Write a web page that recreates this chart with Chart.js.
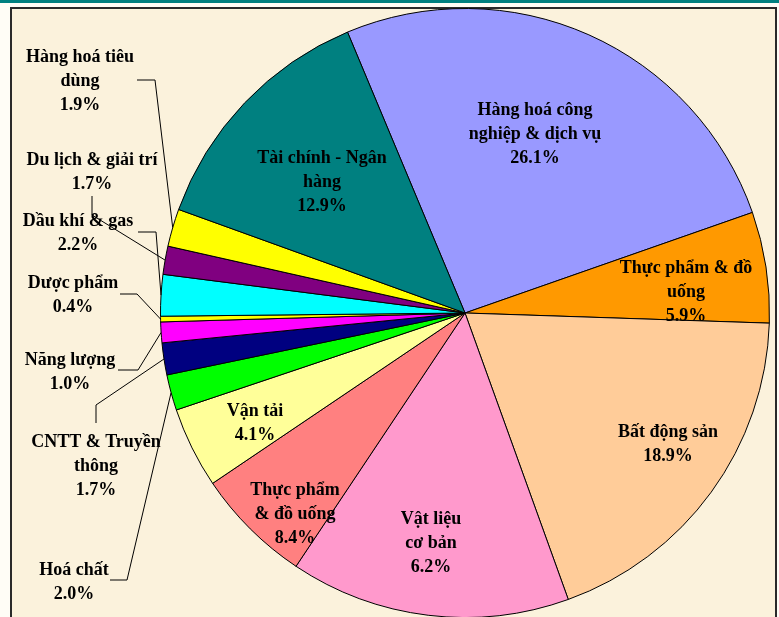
<!DOCTYPE html>
<html>
<head>
<meta charset="utf-8">
<script src="https://cdn.jsdelivr.net/npm/chart.js@4"></script>
<style>
  html, body { margin: 0; padding: 0; width: 779px; height: 617px; overflow: hidden; background: #fffdf6; }
  #topbar { position: absolute; left: 0; top: 0; width: 779px; height: 3px; background: #008080; }
  #frame { position: absolute; left: 10px; top: 7px; width: 763px; height: 640px; border: 2px solid #2a2a2a; background: #fbf2dc; }
  #pie { position: absolute; left: 0; top: 0; }
</style>
</head>
<body>
<div id="topbar"></div>
<div id="frame"></div>
<canvas id="pie" width="779" height="640"></canvas>
<script>
// slices clockwise, starting at the teal / lilac edge
const categories = [
    'Hàng hoá công\nnghiệp & dịch vụ',
    'Thực phẩm & đồ\nuống',
    'Bất động sản',
    'Vật liệu\ncơ bản',
    'Thực phẩm\n& đồ uống',
    'Vận tải',
    'Hoá chất',
    'CNTT & Truyền\nthông',
    'Năng lượng',
    'Dược phẩm',
    'Dầu khí & gas',
    'Du lịch & giải trí',
    'Hàng hoá tiêu\ndùng',
    'Tài chính - Ngân\nhàng'
];
// slice sizes as measured on the picture (%)
const sliceShares = [26.0, 5.9, 19.0, 14.9, 6.2, 4.3, 1.9, 1.7, 1.1, 0.3, 2.2, 1.5, 2.0, 13.2];
// percentages as printed on the labels
const percentLabels = ['26.1%', '5.9%', '18.9%', '6.2%', '8.4%', '4.1%', '2.0%', '1.7%', '1.0%', '0.4%', '2.2%', '1.7%', '1.9%', '12.9%'];
const sliceColors = ['#9999ff', '#ff9900', '#ffcc99', '#ff99cc', '#ff8080', '#ffff99', '#00ff00',
    '#000080', '#ff00ff', '#ffff00', '#00ffff', '#800080', '#ffff00', '#008080'];

// where each label sits (centre of first line); leader = elbow points, last point is the slice edge
const labelLayout = [
    { x: 535, y: 110 },
    { x: 686, y: 268 },
    { x: 668, y: 432 },
    { x: 431, y: 519 },
    { x: 295, y: 490 },
    { x: 255, y: 411 },
    { x: 74, y: 570, leader: [[110, 580], [127, 580]] },
    { x: 96, y: 442, leader: [[96, 423], [96, 405]] },
    { x: 70, y: 360, leader: [[118, 370], [138, 370]] },
    { x: 73, y: 283, leader: [[120, 294], [137, 294]] },
    { x: 78, y: 221, leader: [[138, 232], [156, 232]] },
    { x: 92, y: 160, leader: [[92, 196], [92, 215]] },
    { x: 80, y: 57, leader: [[137, 80], [155, 80]] },
    { x: 322, y: 158 }
];

const pieLabels = {
    id: 'pieLabels',
    afterDraw(c) {
        const ctx = c.ctx;
        const arcs = c.getDatasetMeta(0).data;
        ctx.save();
        ctx.strokeStyle = '#000';
        ctx.lineWidth = 1;
        arcs.forEach((arc, i) => {
            const lay = labelLayout[i];
            if (!lay.leader) return;
            const mid = (arc.startAngle + arc.endAngle) / 2;
            const ex = arc.x + Math.cos(mid) * arc.outerRadius;
            const ey = arc.y + Math.sin(mid) * arc.outerRadius;
            ctx.beginPath();
            ctx.moveTo(lay.leader[0][0], lay.leader[0][1]);
            lay.leader.slice(1).forEach(p => ctx.lineTo(p[0], p[1]));
            ctx.lineTo(ex, ey);
            ctx.stroke();
        });
        ctx.fillStyle = '#000';
        ctx.font = 'bold 18px "Liberation Serif", "Times New Roman", serif';
        ctx.textAlign = 'center';
        ctx.textBaseline = 'middle';
        categories.forEach((name, i) => {
            const lines = name.split('\n').concat(percentLabels[i]);
            lines.forEach((t, k) => ctx.fillText(t, labelLayout[i].x, labelLayout[i].y + k * 24));
        });
        ctx.restore();
    }
};

new Chart(document.getElementById('pie'), {
    type: 'pie',
    data: {
        labels: categories,
        datasets: [{
            data: sliceShares,
            backgroundColor: sliceColors,
            borderColor: '#000',
            borderWidth: 1
        }]
    },
    options: {
        responsive: false,
        animation: false,
        rotation: -22.7,
        layout: { padding: { left: 160, top: 8, right: 9, bottom: 22 } },
        plugins: { legend: { display: false }, tooltip: { enabled: false } }
    },
    plugins: [pieLabels]
});
</script>
</body>
</html>
